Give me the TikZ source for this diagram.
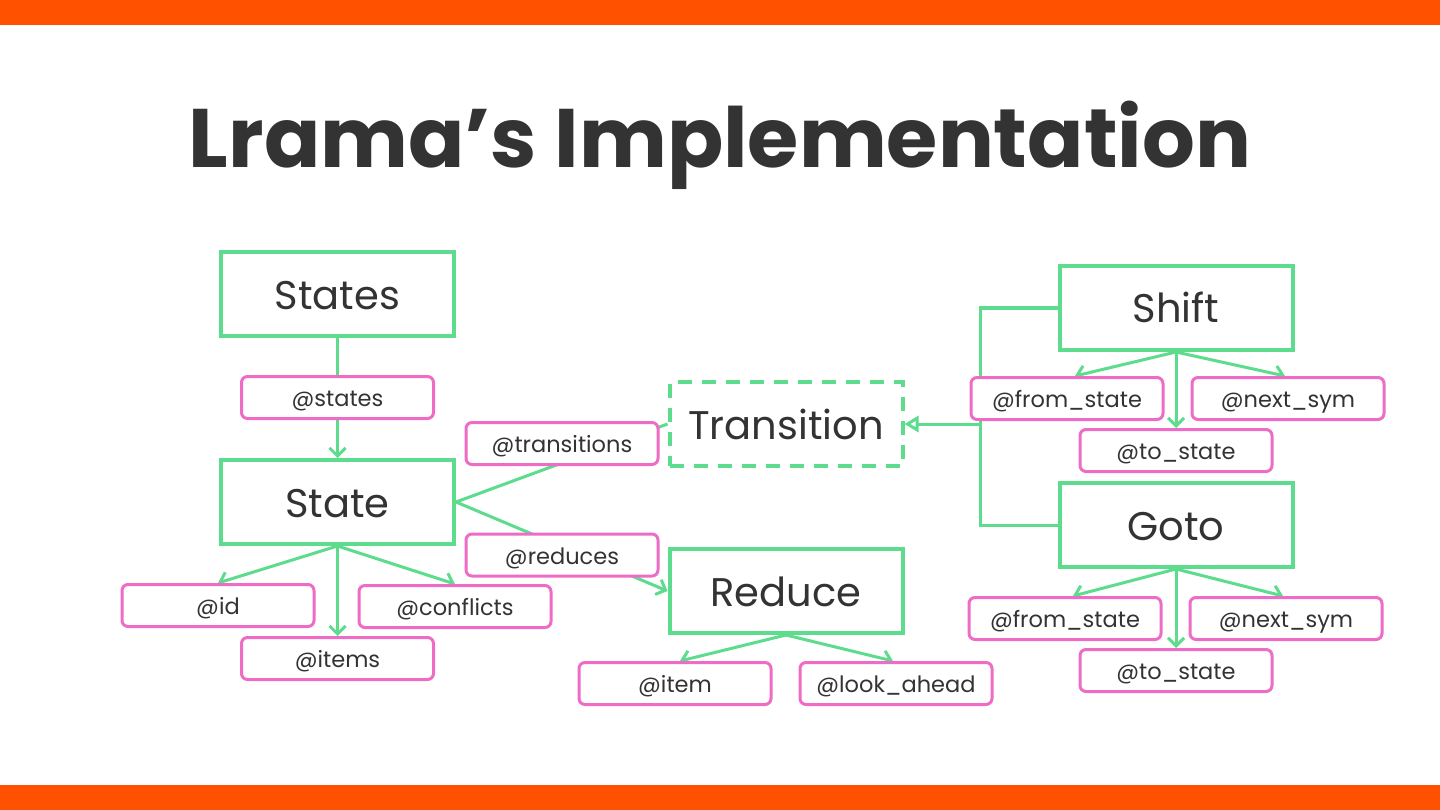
\documentclass[tikz,border=0pt]{standalone}
\usepackage{fontspec}
\setmainfont{Poppins}
\usepackage{tikz}
\usetikzlibrary{arrows.meta, backgrounds}

\definecolor{barorange}{HTML}{FF5100}
\definecolor{boxgreen}{HTML}{5CDC8C}
\definecolor{tagpink}{HTML}{EE6CC6}
\definecolor{ink}{HTML}{333333}

\begin{document}
\begin{tikzpicture}[
  x=1pt, y=-1pt,
  text=ink,
  classbox/.style={rectangle, draw=boxgreen, line width=4pt, fill=white, minimum width=233pt, minimum height=84pt, inner sep=0pt, text height=30pt, text depth=0pt, font=\fontsize{40}{42}\selectfont},
  abstractbox/.style={classbox, dashed, dash pattern=on 14pt off 10pt},
  tag/.style={rectangle, rounded corners=6pt, draw=tagpink, line width=3pt, fill=white, minimum width=192pt, minimum height=42pt, inner sep=0pt, text height=18pt, text depth=0pt, font=\fontsize{22.5}{24}\selectfont},
  link/.style={draw=boxgreen, line width=3pt},
  arrow/.style={link, -{Straight Barb[length=8pt, width=16pt, line width=3pt]}},
  inherit/.style={link, -{Triangle[open, length=14pt, width=16pt, line width=3pt, fill=white]}}
]
\useasboundingbox (0,0) rectangle (1440,810);
\fill[barorange] (0,0) rectangle (1440,25);
\fill[barorange] (0,785) rectangle (1440,810);

\node (title) [text height=60pt, text depth=0pt] at (720,138) {\fontsize{83}{90}\selectfont\bfseries Lrama’s Implementation};

% classes
\node (states) [classbox] at (337.5,294) {States};
\node (state) [classbox] at (337.5,502) {State};
\node (transition) [abstractbox] at (786,424) {Transition};
\node (reduce) [classbox] at (786,591) {Reduce};
\node (shift) [classbox] at (1176,308) {Shift};
\node (goto) [classbox] at (1176,525) {Goto};

% attributes
\node (tstates) [tag] at (337.5,397.5) {@states};
\node (ttransitions) [tag] at (562,443.5) {@transitions};
\node (treduces) [tag] at (562,555) {@reduces};
\node (tid) [tag] at (218,605.5) {@id};
\node (tconflicts) [tag] at (455,606.5) {@conflicts};
\node (titems) [tag] at (337.5,658.5) {@items};
\node (titem) [tag] at (675,683.5) {@item};
\node (tlookahead) [tag] at (896,683.5) {@look\_ahead};
\node (sfrom) [tag] at (1067,398.5) {@from\_state};
\node (snext) [tag] at (1288,398.5) {@next\_sym};
\node (sto) [tag] at (1176,450.5) {@to\_state};
\node (gfrom) [tag] at (1065,618.5) {@from\_state};
\node (gnext) [tag] at (1286,618.5) {@next\_sym};
\node (gto) [tag] at (1176,670.5) {@to\_state};

\coordinate (bus) at (980,424);

\begin{scope}[on background layer]
\draw [arrow] (states) -- (state);
\draw [link] (state.east) -- (transition.west);
\draw [arrow] (state.east) -- (reduce.west);
\draw [arrow] (state.south) -- (tid.north);
\draw [arrow] (state.south) -- (titems.north);
\draw [arrow] (state.south) -- (tconflicts.north);
\draw [arrow] (reduce.south) -- ([xshift=5pt]titem.north);
\draw [arrow] (reduce.south) -- ([xshift=-3pt]tlookahead.north);
\draw [arrow] (shift.south) -- ([xshift=8pt]sfrom.north);
\draw [arrow] (shift.south) -- ([xshift=-3pt]snext.north);
\draw [arrow] (shift.south) -- (sto.north);
\draw [arrow] (goto.south) -- ([xshift=8pt]gfrom.north);
\draw [arrow] (goto.south) -- ([xshift=-3pt]gnext.north);
\draw [arrow] (goto.south) -- (gto.north);
\draw [link] (shift.west) -| (bus) |- (goto.west);
\end{scope}
\draw [inherit] (bus) -- (transition.east);
\end{tikzpicture}
\end{document}
